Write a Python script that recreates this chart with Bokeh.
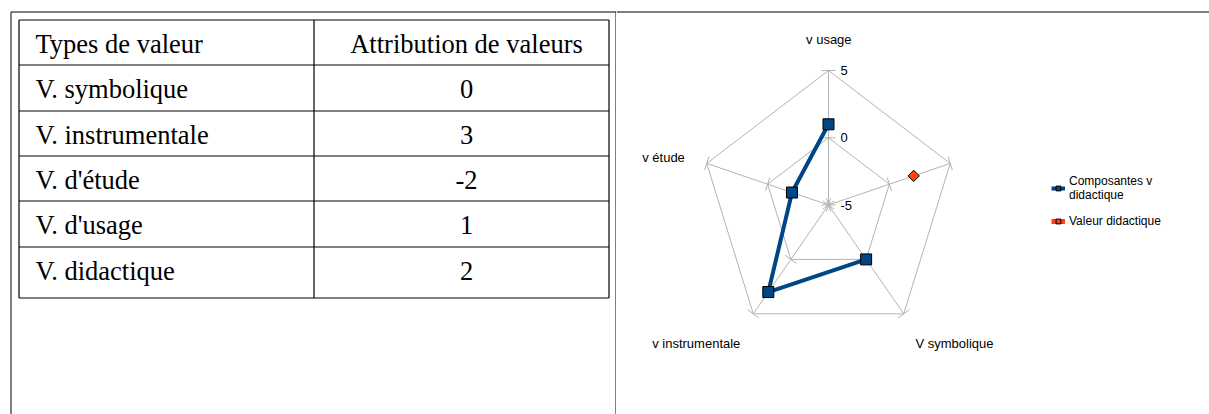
import math
from bokeh.plotting import figure
from bokeh.models import Range1d, Legend, LegendItem, Span
from bokeh.layouts import row
from bokeh.embed import file_html
from bokeh.resources import INLINE
from bokeh.core.properties import value

# ---------------- data ----------------
table_header = ["Types de valeur", "Attribution de valeurs"]
value_types = ["V. symbolique", "V. instrumentale", "V. d'étude", "V. d'usage", "V. didactique"]
value_scores = ["0", "3", "-2", "1", "2"]

radar_categories = ["v usage", "", "V symbolique", "v instrumentale", "v étude"]
composantes = [1, None, 0, 3, -2]
valeur_didactique = [None, 2, None, None, None]
radar_ticks = [-5, 0, 5]
r_min, r_max = -5, 5

# ---------------- layout constants (page pixels) ----------------
W_LEFT, W_RIGHT, H = 616, 593, 414
SERIF = "Liberation Serif"
SANS = "Liberation Sans"

# ---------------- left: table ----------------
left = figure(width=W_LEFT, height=H, x_range=Range1d(0, W_LEFT),
              y_range=Range1d(H, 0), output_backend="svg", toolbar_location=None,
              min_border=0, x_axis_location=None, y_axis_location=None)
left.grid.visible = False
left.outline_line_color = None

# outer frame
left.segment(x0=[10.5, 10.5, 615.5], y0=[11.5, 11.5, 11.5],
             x1=[W_LEFT, 10.5, 615.5], y1=[11.5, H, H], line_color="black", line_width=1)

row_lines = [19.5, 64.5, 110.5, 155.5, 200.5, 246.5, 297.5]
tx0, tx1, tdiv = 18.5, 608.5, 313.5
left.segment(x0=[tx0] * len(row_lines), y0=row_lines, x1=[tx1] * len(row_lines), y1=row_lines,
             line_color="black", line_width=1.2)
left.segment(x0=[tx0, tdiv, tx1], y0=[row_lines[0]] * 3, x1=[tx0, tdiv, tx1], y1=[row_lines[-1]] * 3,
             line_color="black", line_width=1.2)

col1 = [table_header[0]] + value_types
col2 = [table_header[1]] + value_scores
baselines = [y + 24 for y in row_lines[:-1]]
left.text(x=[35] * len(col1), y=baselines, text=col1, text_font=value(SERIF),
          text_font_size="26.5px", text_baseline="alphabetic", text_align="left", text_color="black")
left.text(x=[466] * len(col2), y=baselines, text=col2, text_font=value(SERIF),
          text_font_size="26.5px", text_baseline="alphabetic", text_align="center", text_color="black")

# ---------------- right: radar ----------------
CXP, CYP = 828.0, 204.5      # centre in page pixels
RXP, RYP = 128.0, 134.5      # full radius in pixels (horizontal, vertical)
rx0 = W_LEFT
right = figure(width=W_RIGHT, height=H,
               x_range=Range1d((rx0 - CXP) / RXP, (rx0 + W_RIGHT - CXP) / RXP),
               y_range=Range1d((CYP - H) / RYP, CYP / RYP),
               output_backend="svg", toolbar_location=None, min_border=0,
               x_axis_location=None, y_axis_location=None)
right.grid.visible = False
right.outline_line_color = None
right.add_layout(Span(location=(CYP - 11.5) / RYP, dimension="width", line_color="black", line_width=1))

n = len(radar_categories)
angles = [math.pi / 2 - 2 * math.pi * i / n for i in range(n)]

def rad(v):
    return (v - r_min) / (r_max - r_min)

GRID = "#b3b3b3"
# spokes
right.segment(x0=[0] * n, y0=[0] * n, x1=[math.cos(a) for a in angles], y1=[math.sin(a) for a in angles],
              line_color=GRID, line_width=1)
# rings
for t in radar_ticks[1:]:
    rr = rad(t)
    xs = [rr * math.cos(a) for a in angles] + [rr * math.cos(angles[0])]
    ys = [rr * math.sin(a) for a in angles] + [rr * math.sin(angles[0])]
    right.line(xs, ys, line_color=GRID, line_width=1)
# tick marks
TK = 7.0
kx0, ky0, kx1, ky1 = [], [], [], []
for t in radar_ticks:
    rr = rad(t)
    for a in angles:
        cx, cy = rr * math.cos(a), rr * math.sin(a)
        dx, dy = -math.sin(a) * TK / RXP, math.cos(a) * TK / RYP
        kx0.append(cx - dx); ky0.append(cy - dy); kx1.append(cx + dx); ky1.append(cy + dy)
right.segment(x0=kx0, y0=ky0, x1=kx1, y1=ky1, line_color=GRID, line_width=1)

# tick labels on first axis
right.text(x=[(840 - CXP) / RXP] * len(radar_ticks), y=[rad(t) for t in radar_ticks],
           text=[str(t) for t in radar_ticks], text_font=value(SANS), text_font_size="13px",
           text_baseline="middle", text_align="left", text_color="black")

# category labels (page positions)
cat_pos = {"v usage": (828.3, 39.3, "center"),
           "V symbolique": (915.0, 342.7, "left"),
           "v instrumentale": (651.7, 342.7, "left"),
           "v étude": (641.7, 156.7, "left")}
for c in radar_categories:
    if c in cat_pos:
        px, py, al = cat_pos[c]
        right.text(x=[(px - CXP) / RXP], y=[(CYP - py) / RYP], text=[c], text_font=value(SANS),
                   text_font_size="13px", text_baseline="middle", text_align=al, text_color="black")

BLUE, ORANGE = "#004586", "#ff420e"

def series_xy(vals):
    xs, ys = [], []
    for v, a in zip(vals, angles):
        if v is None:
            xs.append(float("nan")); ys.append(float("nan"))
        else:
            xs.append(rad(v) * math.cos(a)); ys.append(rad(v) * math.sin(a))
    return xs, ys

bx, by = series_xy(composantes)
bline = right.line(bx + [bx[0]], by + [by[0]], line_color=BLUE, line_width=4)
pts = [(x, y) for x, y in zip(bx, by) if not math.isnan(x)]
bsq = right.scatter([p[0] for p in pts], [p[1] for p in pts], marker="square", size=11,
                    fill_color=BLUE, line_color="black", line_width=1)

ox, oy = series_xy(valeur_didactique)
oline = right.line(ox + [ox[0]], oy + [oy[0]], line_color=ORANGE, line_width=5)
opts = [(x, y) for x, y in zip(ox, oy) if not math.isnan(x)]
odia = right.scatter([p[0] for p in opts], [p[1] for p in opts], marker="square", size=8,
                     angle=math.pi / 4, fill_color=ORANGE, line_color="black", line_width=1)

legend = Legend(items=[LegendItem(label="Composantes v\ndidactique", renderers=[bline, bsq]),
                       LegendItem(label="Valeur didactique", renderers=[oline, odia])],
                location=(1051 - rx0, H - 228),
                glyph_width=14, glyph_height=12, label_standoff=4, spacing=12,
                padding=0, margin=0, border_line_color=None, background_fill_alpha=0,
                label_text_font=SANS, label_text_font_size="12px", label_text_line_height=1.5,
                label_height=12, label_text_color="black")
right.add_layout(legend, "center")

layout = row(left, right)
open("out.html", "w").write(file_html(layout, INLINE))
